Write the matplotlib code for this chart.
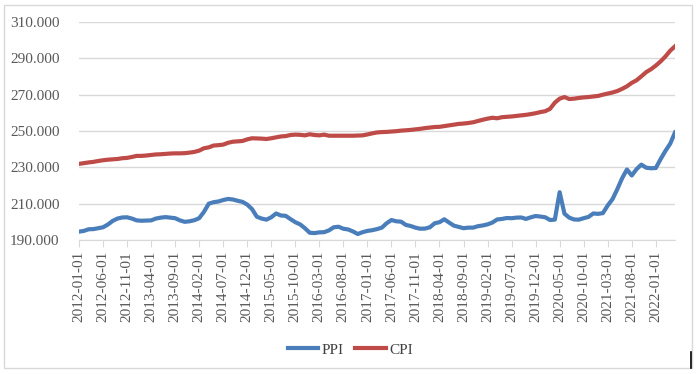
import pandas as pd
import matplotlib
matplotlib.use('Agg')
import matplotlib.pyplot as plt
from matplotlib.ticker import FormatStrFormatter

# 月度数据 2012-01 ~ 2022-05
dates = pd.date_range('2012-01-01', '2022-05-01', freq='MS')

ppi = [194.6, 195.0, 195.9, 196.0, 196.5, 197.0, 198.5, 200.5, 201.8, 202.4,
       202.5, 201.8, 200.8, 200.6, 200.7, 200.8, 201.8, 202.3, 202.6, 202.3,
       202.0, 200.8, 200.0, 200.3, 200.9, 202.0, 205.5, 210.0, 210.8, 211.2,
       212.0, 212.6, 212.3, 211.6, 211.0, 209.5, 207.0, 202.8, 201.8, 201.2,
       202.5, 204.6, 203.5, 203.3, 201.5, 199.8, 198.6, 196.5, 194.0, 193.8,
       194.2, 194.3, 195.3, 197.0, 197.3, 196.2, 195.8, 194.7, 193.3, 194.3,
       195.0, 195.4, 196.0, 196.8, 199.2, 201.0, 200.3, 200.1, 198.3, 197.7,
       196.8, 196.2, 196.3, 197.0, 199.2, 199.8, 201.4, 199.6, 197.9, 197.2,
       196.5, 196.8, 196.8, 197.6, 198.0, 198.6, 199.6, 201.3, 201.6, 202.1,
       202.0, 202.3, 202.4, 201.6, 202.5, 203.2, 202.9, 202.5, 201.0, 201.2,
       216.3, 204.5, 202.3, 201.3, 201.2, 202.0, 202.7, 204.6, 204.4, 204.8,
       209.0, 212.5, 218.0, 224.0, 228.8, 225.5, 229.0, 231.5, 229.8, 229.5,
       229.6, 234.5, 239.0, 243.0, 249.2]

cpi = [231.9, 232.3, 232.7, 233.0, 233.5, 233.9, 234.2, 234.4, 234.6, 235.0,
       235.2, 235.7, 236.3, 236.3, 236.5, 236.8, 237.1, 237.2, 237.4, 237.6,
       237.7, 237.7, 237.8, 238.1, 238.5, 239.2, 240.5, 241.0, 242.0, 242.2,
       242.5, 243.5, 244.1, 244.3, 244.5, 245.4, 246.0, 245.9, 245.8, 245.6,
       246.0, 246.5, 247.0, 247.2, 247.8, 248.0, 247.9, 247.6, 248.2, 247.8,
       247.6, 248.0, 247.4, 247.4, 247.4, 247.4, 247.4, 247.4, 247.5, 247.6,
       248.1, 248.7, 249.2, 249.4, 249.5, 249.7, 249.9, 250.2, 250.4, 250.6,
       250.9, 251.2, 251.6, 251.9, 252.2, 252.3, 252.7, 253.1, 253.5, 253.9,
       254.1, 254.4, 254.8, 255.5, 256.2, 256.8, 257.3, 257.0, 257.6, 257.8,
       258.0, 258.3, 258.6, 258.9, 259.3, 259.8, 260.4, 260.9, 262.2, 265.6,
       267.8, 268.7, 267.6, 267.8, 268.2, 268.5, 268.7, 269.0, 269.3, 270.0,
       270.6, 271.2, 272.0, 273.2, 274.6, 276.5, 277.9, 280.1, 282.4, 284.0,
       286.0, 288.3, 291.0, 294.2, 296.6]

yticks = [190, 210, 230, 250, 270, 290, 310]

plt.rcParams['font.family'] = ['Liberation Serif', 'DejaVu Serif']

fig = plt.figure(figsize=(6.98, 3.74), dpi=100)
# 外框
fig.patches.append(plt.Rectangle((4 / 698, 1 - 368 / 374), 688 / 698, 363 / 374,
                                 transform=fig.transFigure, fill=False,
                                 edgecolor='#D9D9D9', linewidth=1))
ax = fig.add_axes([79 / 698, 1 - 240 / 374, 596 / 698, 218 / 374])

x = list(range(len(dates)))
ax.plot(x, ppi, color='#4A7EBB', linewidth=3, label='PPI', solid_joinstyle='round')
ax.plot(x, cpi, color='#BE4B48', linewidth=3, label='CPI', solid_joinstyle='round')

ax.set_xlim(0, len(dates) - 1)
ax.set_ylim(190, 310)
ax.set_yticks(yticks)
ax.yaxis.set_major_formatter(FormatStrFormatter('%.3f'))
ax.grid(axis='y', color='#D9D9D9', linewidth=1)
ax.set_axisbelow(True)

tick_pos = x[::5]
ax.set_xticks(tick_pos)
ax.set_xticklabels([dates[i].strftime('%Y-%m-%d') for i in tick_pos], rotation=90)

for s in ['top', 'right', 'left']:
    ax.spines[s].set_visible(False)
ax.spines['bottom'].set_color('#D9D9D9')
ax.tick_params(axis='y', length=0, labelsize=11, labelcolor='#595959', pad=14)
ax.tick_params(axis='x', length=5, color='#D9D9D9', labelsize=11,
               labelcolor='#595959', pad=3)

ax.legend(loc='upper center', bbox_to_anchor=(0.455, -0.41), ncol=2, frameon=False,
          fontsize=11, handlelength=2.0, columnspacing=0.8, handletextpad=0.2,
          labelcolor='#404040')

# 右下角竖线
fig.add_artist(plt.Line2D([691 / 698, 691 / 698], [1 - 368 / 374, 1 - 352 / 374],
                          color='black', linewidth=1.2))

fig.savefig('out.png', dpi=100)
